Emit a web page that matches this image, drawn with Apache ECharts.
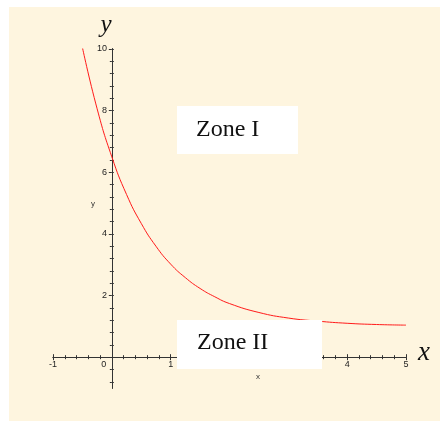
<!DOCTYPE html>
<html>
<head>
<meta charset="utf-8">
<script src="https://cdn.jsdelivr.net/npm/echarts@6/dist/echarts.min.js"></script>
<style>html,body{margin:0;padding:0;background:#fff;}#c{width:440px;height:421px;}</style>
</head>
<body>
<div id="c"></div>
<script>
// ---- data ----
const xValues = [-0.5, -0.25, 0, 0.25, 0.5, 0.75, 1, 1.25, 1.5, 1.75, 2, 2.5, 3, 3.5, 4, 4.5, 5];
const yValues = [10.05, 8.06, 6.5, 5.28, 4.34, 3.6, 3.02, 2.58, 2.23, 1.96, 1.74, 1.45, 1.27, 1.17, 1.1, 1.06, 1.04];
const xTickLabels = [-1, 0, 1, 2, 3, 4, 5];
const yTickLabels = [2, 4, 6, 8, 10];
const yMajorTicks = [0, 2, 4, 6, 8, 10];
const zoneLabels = ['Zone I', 'Zone II'];

// minor tick positions on y (every 0.4, skipping majors)
const yMinorTicks = [];
for (let k = -2; k <= 25; k++) { if (k % 5 !== 0) yMinorTicks.push(Math.round(k * 4) / 10); }

const AX = '#333333';
const lblFont = { fontSize: 9, color: '#222', fontFamily: 'Liberation Sans, Arial, sans-serif' };

function xAxisDef(inside, withLabels) {
  return {
    type: 'value', min: -1, max: 5, interval: 1, position: 'bottom',
    axisLine: { show: true, onZero: true, onZeroAxisIndex: 0, lineStyle: { color: AX, width: 1 } },
    axisTick: { show: true, inside: inside, length: 3, lineStyle: { color: AX } },
    minorTick: { show: true, splitNumber: 5, length: 2, lineStyle: { color: AX } },
    splitLine: { show: false }, minorSplitLine: { show: false },
    axisLabel: withLabels ? Object.assign({
      show: true, margin: -28,
      customValues: xTickLabels,
      formatter: function (v) { return v === 0 ? '{z|0}' : String(v); },
      rich: { z: Object.assign({ padding: [0, 16, 0, 0] }, lblFont) }
    }, lblFont) : { show: false }
  };
}
function yAxisDef(inside, ticks, len, withLabels) {
  return {
    type: 'value', min: -1, max: 10, position: 'left',
    axisLine: { show: true, onZero: true, onZeroAxisIndex: 0, lineStyle: { color: AX, width: 1 } },
    axisTick: { show: true, inside: inside, length: len, customValues: ticks, lineStyle: { color: AX } },
    minorTick: { show: false },
    splitLine: { show: false },
    axisLabel: withLabels ? Object.assign({ show: true, margin: -54, customValues: yTickLabels }, lblFont) : { show: false }
  };
}

const chart = echarts.init(document.getElementById('c'), null, { renderer: 'canvas' });
chart.setOption({
  backgroundColor: '#ffffff',
  animation: false,
  grid: { left: 53, top: 49, width: 353, height: 339, containLabel: false },
  xAxis: [xAxisDef(false, true), xAxisDef(true, false)],
  yAxis: [
    yAxisDef(false, yMajorTicks, 3, true),
    yAxisDef(true, yMajorTicks, 2, false),
    yAxisDef(false, yMinorTicks, 2, false),
    yAxisDef(true, yMinorTicks, 2, false)
  ],
  series: [{
    type: 'line', xAxisIndex: 0, yAxisIndex: 0,
    data: xValues.map((x, i) => [x, yValues[i]]),
    smooth: true, showSymbol: false, symbol: 'none',
    lineStyle: { color: '#ff1a1a', width: 1 }, z: 3
  }],
  graphic: [
    { type: 'rect', z: -100, silent: true, shape: { x: 9, y: 7, width: 431, height: 414 }, style: { fill: '#fef5df' } },
    { type: 'rect', z: 100, shape: { x: 177, y: 106, width: 121, height: 48 }, style: { fill: '#ffffff' } },
    { type: 'text', z: 101, style: { text: zoneLabels[0], x: 196, y: 130, font: '24px "Liberation Serif", "Times New Roman", serif', fill: '#111', textVerticalAlign: 'middle' } },
    { type: 'rect', z: 100, shape: { x: 177, y: 320, width: 145, height: 49 }, style: { fill: '#ffffff' } },
    { type: 'text', z: 101, style: { text: zoneLabels[1], x: 197, y: 343, font: '24px "Liberation Serif", "Times New Roman", serif', fill: '#111', textVerticalAlign: 'middle' } },
    { type: 'text', z: 101, style: { text: 'y', x: 106, y: 25, font: 'italic 25px "Liberation Serif", "Times New Roman", serif', fill: '#111', textAlign: 'center', textVerticalAlign: 'middle' } },
    { type: 'text', z: 101, style: { text: 'x', x: 424, y: 353, font: 'italic 27px "Liberation Serif", "Times New Roman", serif', fill: '#111', textAlign: 'center', textVerticalAlign: 'middle' } },
    { type: 'text', z: 101, style: { text: 'y', x: 93, y: 204, font: '8px "Liberation Sans", Arial, sans-serif', fill: '#333', textAlign: 'center', textVerticalAlign: 'middle' } },
    { type: 'text', z: 101, style: { text: 'x', x: 258, y: 377, font: '8px "Liberation Sans", Arial, sans-serif', fill: '#333', textAlign: 'center', textVerticalAlign: 'middle' } }
  ]
});
</script>
</body>
</html>
